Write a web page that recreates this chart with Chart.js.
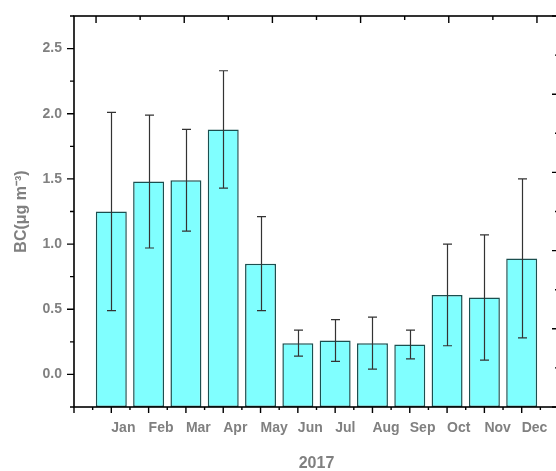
<!DOCTYPE html>
<html>
<head>
<meta charset="utf-8">
<script src="https://cdn.jsdelivr.net/npm/chart.js@4.4.0/dist/chart.umd.min.js"></script>
<style>
  html, body { margin: 0; padding: 0; overflow: hidden; background: #fff; }
  #wrap { position: absolute; left: 0; top: 0; }
</style>
</head>
<body>
<div id="wrap"><canvas id="bcChart" width="570" height="471"></canvas></div>
<script>
// monthly BC means and standard deviations (2017)
const months = ['Jan', 'Feb', 'Mar', 'Apr', 'May', 'Jun', 'Jul', 'Aug', 'Sep', 'Oct', 'Nov', 'Dec'];
const monthPos = [1, 2, 3, 4, 5, 6, 7, 8, 9, 10, 11, 12];
const bcMean = [1.25, 1.48, 1.49, 1.88, 0.85, 0.24, 0.26, 0.24, 0.23, 0.61, 0.59, 0.89];
const bcSd = [0.76, 0.51, 0.39, 0.45, 0.36, 0.10, 0.16, 0.20, 0.11, 0.39, 0.48, 0.61];
const yTicks = [0, 0.5, 1.0, 1.5, 2.0, 2.5];
const yMin = -0.25, yMax = 2.75;

const FONT = 'Arial, "Liberation Sans", sans-serif';
const GREY = '#808080';

// error bars drawn on top of the bars
const errorBars = {
    id: 'errorBars',
    afterDatasetsDraw(chart) {
        const { ctx, scales: { x, y } } = chart;
        ctx.save();
        ctx.strokeStyle = '#333';
        ctx.lineWidth = 1.2;
        bcMean.forEach((m, i) => {
            const px = Math.round(x.getPixelForValue(monthPos[i])) + 0.5;
            const hi = y.getPixelForValue(m + bcSd[i]);
            const lo = y.getPixelForValue(m - bcSd[i]);
            ctx.beginPath();
            ctx.moveTo(px, hi); ctx.lineTo(px, lo);
            ctx.moveTo(px - 4.5, hi); ctx.lineTo(px + 4.5, hi);
            ctx.moveTo(px - 4.5, lo); ctx.lineTo(px + 4.5, lo);
            ctx.stroke();
        });
        ctx.restore();
    }
};

// box frame with major/minor tick marks on all four sides
const frame = {
    id: 'frame',
    afterDraw(chart) {
        const { ctx, chartArea: a, scales } = chart;
        ctx.save();
        ctx.strokeStyle = '#000';
        ctx.lineWidth = 1.6;
        ctx.strokeRect(a.left, a.top, a.right - a.left, a.bottom - a.top);
        ctx.lineWidth = 1.4;
        const marks = (scale, step, perMajor, draw) => {
            const k0 = Math.ceil(scale.min / step - 1e-9);
            const k1 = Math.floor(scale.max / step + 1e-9);
            for (let k = k0; k <= k1; k++) {
                const p = scale.getPixelForValue(k * step);
                draw(p, (k % perMajor === 0));
            }
        };
        ctx.beginPath();
        marks(scales.x, 0.5, 2, (p, major) => {
            ctx.moveTo(p, a.bottom); ctx.lineTo(p, a.bottom + (major ? 6 : 3));
        });
        marks(scales.y, 0.25, 2, (p, major) => {
            ctx.moveTo(a.left, p); ctx.lineTo(a.left - (major ? 7 : 4), p);
        });
        marks(scales.x2, 0.5, 2, (p, major) => {
            ctx.moveTo(p, a.top); ctx.lineTo(p, a.top + (major ? 7 : 4));
        });
        marks(scales.y2, 0.5, 2, (p, major) => {
            ctx.moveTo(a.right, p); ctx.lineTo(a.right - (major ? 7 : 4), p);
        });
        ctx.stroke();
        ctx.restore();
    }
};

const noGrid = { display: false, drawTicks: false };
const noBorder = { display: false };
// fixed box sizes, no label overhang padding
const fixSize = (w, h) => s => {
    if (w !== null) s.width = w;
    if (h !== null) s.height = h;
    s.paddingLeft = s.paddingRight = s.paddingTop = s.paddingBottom = 0;
};

const ctx = document.getElementById('bcChart').getContext('2d');
new Chart(ctx, {
    type: 'bar',
    data: {
        datasets: [{
            label: 'BC',
            data: monthPos.map((p, i) => ({ x: p, y: bcMean[i] })),
            base: yMin,
            backgroundColor: 'rgb(128, 255, 255)',
            borderColor: '#1b4f4f',
            borderWidth: 1.5,
            borderSkipped: false,
            barPercentage: 0.83,
            categoryPercentage: 1.0
        }]
    },
    options: {
        responsive: false,
        animation: false,
        devicePixelRatio: 1,
        layout: { padding: 0 },
        plugins: {
            legend: { display: false },
            tooltip: { enabled: false }
        },
        scales: {
            x: {
                type: 'linear',
                position: 'bottom',
                offset: false,
                min: 0,
                max: 13,
                grid: noGrid,
                border: noBorder,
                afterBuildTicks: s => { s.ticks = monthPos.map(v => ({ value: v })); },
                afterFit: fixSize(null, 64),
                ticks: {
                    autoSkip: false,
                    maxRotation: 0,
                    minRotation: 0,
                    align: 'start',
                    padding: 13,
                    color: GREY,
                    font: { family: FONT, size: 14, weight: 'bold' },
                    callback: v => months[monthPos.indexOf(v)] || ''
                },
                title: {
                    display: true,
                    text: '2017',
                    color: GREY,
                    font: { family: FONT, size: 16, weight: 'bold' },
                    padding: { top: 0, bottom: -2 }
                }
            },
            y: {
                type: 'linear',
                position: 'left',
                min: yMin,
                max: yMax,
                grid: noGrid,
                border: noBorder,
                afterBuildTicks: s => { s.ticks = yTicks.map(v => ({ value: v })); },
                afterFit: fixSize(74, null),
                ticks: {
                    padding: 12,
                    color: GREY,
                    font: { family: FONT, size: 14, weight: 'bold' },
                    callback: v => v.toFixed(1)
                },
                title: {
                    display: true,
                    text: 'BC(μg m⁻³)',
                    color: GREY,
                    font: { family: FONT, size: 16, weight: 'bold' },
                    padding: { top: 12, bottom: 0 }
                }
            },
            x2: {
                type: 'linear',
                position: 'top',
                min: 0,
                max: 5,
                grid: noGrid,
                border: noBorder,
                ticks: { display: false },
                afterFit: fixSize(null, 16)
            },
            y2: {
                type: 'linear',
                position: 'right',
                min: 0,
                max: 5,
                grid: noGrid,
                border: noBorder,
                ticks: { display: false },
                afterFit: fixSize(11, null)
            }
        }
    },
    plugins: [errorBars, frame]
});
</script>
</body>
</html>
